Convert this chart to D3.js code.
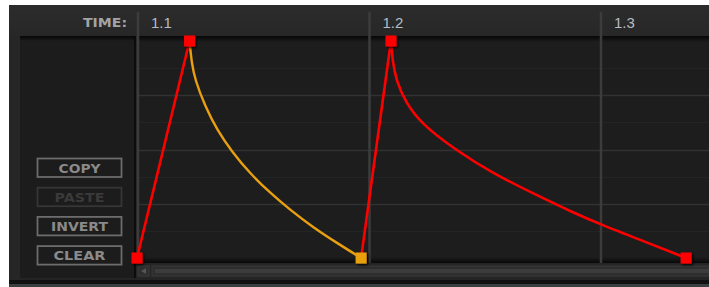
<!DOCTYPE html>
<html>
<head>
<meta charset="utf-8">
<script src="https://cdn.jsdelivr.net/npm/d3@7"></script>
<style>
  body { margin: 0; background: #fff; }
  svg { display: block; }
</style>
</head>
<body>
<script>
// ---------------------------------------------- data ----------------------------------------------//
// time positions: 0 = 1.1, 1 = 1.2, 2 = 1.3 ; value 0..1
var tickPos = [0, 1, 2];
var tickLabels = ["1.1", "1.2", "1.3"];

// envelope nodes
var nodes = [
  { t: 0.0, v: 0, color: "#ff0000" },
  { t: 0.227, v: 1, color: "#ff0000" },
  { t: 0.968, v: 0, color: "#e8a010" },
  { t: 1.097, v: 1, color: "#ff0000" },
  { t: 2.372, v: 0, color: "#ff0000" }
];

// points read along the curved segments
var decay1 = [
  [0.227, 1], [0.236, 0.9], [0.251, 0.82], [0.294, 0.7], [0.346, 0.59], [0.41, 0.49],
  [0.488, 0.39], [0.575, 0.3], [0.661, 0.222], [0.76, 0.142], [0.864, 0.069], [0.968, 0]
];
var decay2 = [
  [1.097, 1], [1.105, 0.9], [1.12, 0.82], [1.158, 0.72], [1.231, 0.615], [1.374, 0.5],
  [1.533, 0.392], [1.732, 0.287], [1.879, 0.212], [2.009, 0.152], [2.194, 0.075], [2.372, 0]
];

var buttons = ["COPY", "PASTE", "INVERT", "CLEAR"];
var buttonWidths = [42, 50, 57, 52];
var buttonEnabled = [true, false, true, true];

// --------------------------------------------- layout ---------------------------------------------//
var width = 709, height = 287;
var plotLeft = 137, plotRight = 709, plotTop = 36, plotBottom = 263;

var x = d3.scaleLinear().domain([0, 1]).range([137, 368.5]);
var y = d3.scaleLinear().domain([0, 1]).range([258, 41]);

var svg = d3.select("body").append("svg")
  .attr("width", width)
  .attr("height", height);

var defs = svg.append("defs");
var hg = defs.append("linearGradient").attr("id", "hdr").attr("x1", 0).attr("x2", 0).attr("y1", 0).attr("y2", 1);
hg.append("stop").attr("offset", 0).attr("stop-color", "#2c2c2c");
hg.append("stop").attr("offset", 1).attr("stop-color", "#272727");
var sg = defs.append("linearGradient").attr("id", "shade").attr("x1", 0).attr("x2", 0).attr("y1", 0).attr("y2", 1);
sg.append("stop").attr("offset", 0).attr("stop-color", "#000").attr("stop-opacity", 0.8);
sg.append("stop").attr("offset", 1).attr("stop-color", "#000").attr("stop-opacity", 0);
var bg = defs.append("linearGradient").attr("id", "bshade").attr("x1", 0).attr("x2", 0).attr("y1", 0).attr("y2", 1);
bg.append("stop").attr("offset", 0).attr("stop-color", "#000").attr("stop-opacity", 0);
bg.append("stop").attr("offset", 1).attr("stop-color", "#000").attr("stop-opacity", 0.7);
var shadow = defs.append("filter").attr("id", "sh").attr("x", "-50%").attr("y", "-50%").attr("width", "200%").attr("height", "200%");
shadow.append("feDropShadow").attr("dx", 1.5).attr("dy", 1.5).attr("stdDeviation", 1)
  .attr("flood-color", "#000").attr("flood-opacity", 0.9);

// --------------------------------------------- panel ----------------------------------------------//
svg.append("rect").attr("x", 9).attr("y", 5).attr("width", width - 9).attr("height", 277).attr("fill", "#242424");
svg.append("rect").attr("x", 9).attr("y", 5).attr("width", width - 9).attr("height", 31).attr("fill", "url(#hdr)");
svg.append("rect").attr("x", 9).attr("y", 36).attr("width", 11).attr("height", 244).attr("fill", "#262626");
svg.append("rect").attr("x", 20).attr("y", 36).attr("width", 115).attr("height", 242).attr("fill", "#1c1c1c");
svg.append("rect").attr("x", 134).attr("y", 36).attr("width", 2).attr("height", 242).attr("fill", "#0c0c0c");
svg.append("rect").attr("x", 9).attr("y", 280).attr("width", width - 9).attr("height", 4).attr("fill", "#111");
svg.append("rect").attr("x", 9).attr("y", 284).attr("width", width - 9).attr("height", 3).attr("fill", "#3a3f3f");

// plot background
svg.append("rect").attr("x", plotLeft).attr("y", plotTop).attr("width", plotRight - plotLeft)
  .attr("height", plotBottom - plotTop).attr("fill", "#1d1d1d");

// horizontal grid
var minor = d3.range(1, 8).map(function (i) { return i / 8; });
svg.append("g").selectAll("line").data(minor).enter().append("line")
  .attr("x1", plotLeft).attr("x2", plotRight)
  .attr("y1", function (d) { return Math.round(y(d)) + 0.5; })
  .attr("y2", function (d) { return Math.round(y(d)) + 0.5; })
  .attr("stroke", function (d, i) { return i % 2 === 1 ? "#323232" : "#242424"; })
  .attr("stroke-width", function (d, i) { return i % 2 === 1 ? 1.5 : 1; });

// shading at top and bottom of plot
svg.append("rect").attr("x", plotLeft).attr("y", plotTop).attr("width", plotRight - plotLeft).attr("height", 6).attr("fill", "url(#shade)");
svg.append("rect").attr("x", plotLeft).attr("y", plotBottom - 6).attr("width", plotRight - plotLeft).attr("height", 6).attr("fill", "url(#bshade)");
svg.append("rect").attr("x", 20).attr("y", plotTop).attr("width", 115).attr("height", 5).attr("fill", "url(#shade)");

// vertical time lines + labels
var axis = svg.append("g");
axis.selectAll("line").data(tickPos).enter().append("line")
  .attr("x1", function (d) { return x(d) + 1; }).attr("x2", function (d) { return x(d) + 1; })
  .attr("y1", 12).attr("y2", plotBottom)
  .attr("stroke", "#3c3c3c").attr("stroke-width", 2.5);
axis.selectAll("text").data(tickPos).enter().append("text")
  .attr("x", function (d) { return x(d) + 14; }).attr("y", 28)
  .attr("font-family", "Liberation Sans, Arial, sans-serif").attr("font-size", 15)
  .attr("fill", "#b4bcc6")
  .text(function (d, i) { return tickLabels[i]; });

svg.append("text").attr("x", 83).attr("y", 27)
  .attr("font-family", "DejaVu Sans, sans-serif").attr("font-weight", "bold").attr("font-size", 12)
  .attr("textLength", 44).attr("lengthAdjust", "spacingAndGlyphs")
  .attr("fill", "#a4a4a4").text("TIME:");

// scrollbar
svg.append("rect").attr("x", 137).attr("y", 264).attr("width", plotRight - 137).attr("height", 14).attr("fill", "#262626");
svg.append("rect").attr("x", 138).attr("y", 266).attr("width", 11).attr("height", 10).attr("fill", "#2e2e2e").attr("stroke", "#3a3a3a");
svg.append("path").attr("d", "M141,271 L146,268 L146,274 Z").attr("fill", "#555");
svg.append("rect").attr("x", 152).attr("y", 266).attr("width", plotRight - 152).attr("height", 10).attr("fill", "#2e2e2e").attr("stroke", "#383838");
svg.append("rect").attr("x", 155).attr("y", 269).attr("width", plotRight - 155).attr("height", 4).attr("fill", "#3c3c3c");

// buttons
var btn = svg.append("g").selectAll("g").data(buttons).enter().append("g")
  .attr("transform", function (d, i) { return "translate(37.5," + (158.5 + i * 29.2) + ")"; });
btn.append("rect").attr("width", 84).attr("height", 18.5)
  .attr("fill", "none")
  .attr("stroke", function (d, i) { return buttonEnabled[i] ? "#6c6c6c" : "#363636"; })
  .attr("stroke-width", 1.8);
btn.append("text").attr("x", function (d, i) { return 42 - buttonWidths[i] / 2; }).attr("y", 14)
  .attr("font-family", "DejaVu Sans, sans-serif").attr("font-weight", "bold").attr("font-size", 12.5)
  .attr("textLength", function (d, i) { return buttonWidths[i]; })
  .attr("lengthAdjust", "spacingAndGlyphs")
  .attr("fill", function (d, i) { return buttonEnabled[i] ? "#8a8a8a" : "#3a3a3a"; })
  .text(function (d) { return d; });

// ------------------------------------------- envelope ---------------------------------------------//
var straight = d3.line()
  .x(function (d) { return x(d[0]); })
  .y(function (d) { return y(d[1]); });
var curved = d3.line()
  .x(function (d) { return x(d[0]); })
  .y(function (d) { return y(d[1]); })
  .curve(d3.curveBasis);

var env = svg.append("g");
env.append("path").datum([[nodes[0].t, nodes[0].v], [nodes[1].t, nodes[1].v]])
  .attr("d", straight).attr("fill", "none").attr("stroke", "#ff0000").attr("stroke-width", 2.6);
env.append("path").datum(decay1)
  .attr("d", curved).attr("fill", "none").attr("stroke", "#e8a010").attr("stroke-width", 2.4);
env.append("path").datum([[nodes[2].t, nodes[2].v], [nodes[3].t, nodes[3].v]])
  .attr("d", straight).attr("fill", "none").attr("stroke", "#ff0000").attr("stroke-width", 2.6);
env.append("path").datum(decay2)
  .attr("d", curved).attr("fill", "none").attr("stroke", "#ff0000").attr("stroke-width", 2.6);

env.selectAll("rect").data(nodes).enter().append("rect")
  .attr("x", function (d) { return x(d.t) - 5.5; })
  .attr("y", function (d) { return y(d.v) - 5.5; })
  .attr("width", 11).attr("height", 11)
  .attr("fill", function (d) { return d.color; })
  .attr("filter", "url(#sh)");
</script>
</body>
</html>
